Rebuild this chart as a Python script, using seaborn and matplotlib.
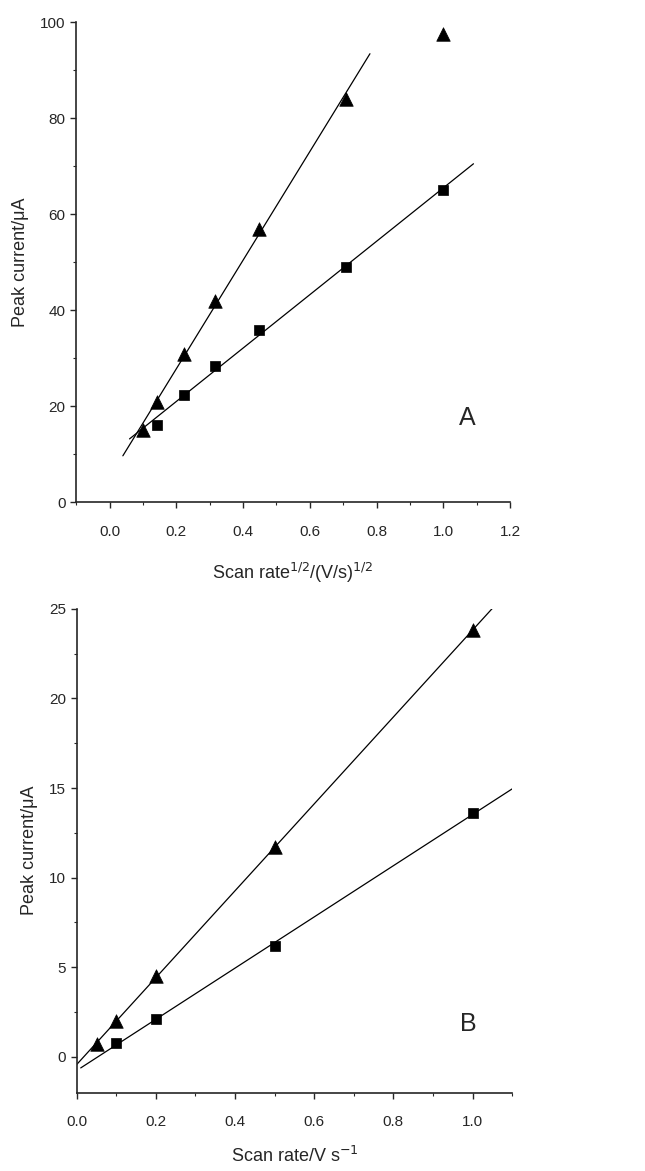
import numpy as np
import matplotlib
matplotlib.use("Agg")
import matplotlib.pyplot as plt
from matplotlib.ticker import MultipleLocator
import seaborn as sns

sns.set_style("ticks")
plt.rcParams['font.family'] = ['Liberation Sans', 'DejaVu Sans']

# Panel A: peak current vs square root of scan rate
a_tri_x = [0.1, 0.141, 0.224, 0.316, 0.447, 0.707, 1.0]
a_tri_y = [15.0, 21.0, 31.0, 42.0, 57.0, 84.0, 97.5]
a_sq_x = [0.141, 0.224, 0.316, 0.447, 0.707, 1.0]
a_sq_y = [16.2, 22.3, 28.5, 36.0, 49.0, 65.0]
# fit ranges (triangle fit leaves out the last point)
a_tri_fit_n = 6
a_tri_span = [0.04, 0.78]
a_sq_span = [0.06, 1.09]

# Panel B: peak current vs scan rate
b_tri_x = [0.05, 0.1, 0.2, 0.5, 1.0]
b_tri_y = [0.7, 2.0, 4.5, 11.7, 23.8]
b_sq_x = [0.1, 0.2, 0.5, 1.0]
b_sq_y = [0.75, 2.1, 6.2, 13.6]
b_tri_span = [0.0, 1.1]
b_sq_span = [0.01, 1.1]

fig = plt.figure(figsize=(6.45, 11.71), dpi=100)
axA = fig.add_axes([0.118, 0.571, 0.673, 0.410])
axB = fig.add_axes([0.119, 0.067, 0.675, 0.413])


def fit_line(ax, x, y, span):
    k, b = np.polyfit(x, y, 1)
    xs = np.array(span)
    sns.lineplot(x=xs, y=k * xs + b, ax=ax, color="black", lw=0.9)


def draw(ax, tx, ty, sx, sy):
    sns.scatterplot(x=tx, y=ty, ax=ax, marker="^", s=95, color="black",
                    edgecolor="black", linewidth=0.5, zorder=3)
    sns.scatterplot(x=sx, y=sy, ax=ax, marker="s", s=55, color="black",
                    edgecolor="black", linewidth=0.5, zorder=3)


# --- A ---
fit_line(axA, a_tri_x[:a_tri_fit_n], a_tri_y[:a_tri_fit_n], a_tri_span)
fit_line(axA, a_sq_x, a_sq_y, a_sq_span)
draw(axA, a_tri_x, a_tri_y, a_sq_x, a_sq_y)
axA.set_xlim(-0.1, 1.2)
axA.set_ylim(0, 100)
axA.xaxis.set_minor_locator(MultipleLocator(0.1))
axA.set_xticks(np.arange(0.0, 1.21, 0.2))
axA.yaxis.set_major_locator(MultipleLocator(20))
axA.yaxis.set_minor_locator(MultipleLocator(10))
axA.set_xticklabels([f"{v:.1f}" for v in np.arange(0.0, 1.21, 0.2)])
axA.set_xlabel("Scan rate$^{1/2}$/(V/s)$^{1/2}$", fontsize=13, labelpad=16)
axA.set_ylabel("Peak current/\u03bcA", fontsize=13, labelpad=8)
axA.text(1.07, 17.5, "A", fontsize=18, ha="center", va="center")

# --- B ---
fit_line(axB, b_tri_x, b_tri_y, b_tri_span)
fit_line(axB, b_sq_x, b_sq_y, b_sq_span)
draw(axB, b_tri_x, b_tri_y, b_sq_x, b_sq_y)
axB.set_xlim(0, 1.1)
axB.set_ylim(-2, 25)
axB.xaxis.set_major_locator(MultipleLocator(0.2))
axB.xaxis.set_minor_locator(MultipleLocator(0.1))
axB.yaxis.set_major_locator(MultipleLocator(5))
axB.yaxis.set_minor_locator(MultipleLocator(2.5))
axB.set_xlabel("Scan rate/V s$^{-1}$", fontsize=13, labelpad=12)
axB.set_ylabel("Peak current/\u03bcA", fontsize=13, labelpad=8)
axB.text(0.99, 1.8, "B", fontsize=18, ha="center", va="center")

for ax in (axA, axB):
    sns.despine(ax=ax)
    ax.spines["left"].set_linewidth(1.2)
    ax.spines["bottom"].set_linewidth(1.2)
    ax.tick_params(which="major", length=4, width=1, labelsize=11, direction="out")
    ax.tick_params(which="minor", length=2.5, width=0.8, direction="out")
    ax.tick_params(axis="x", which="major", pad=12)

fig.savefig("out.png", dpi=100)
